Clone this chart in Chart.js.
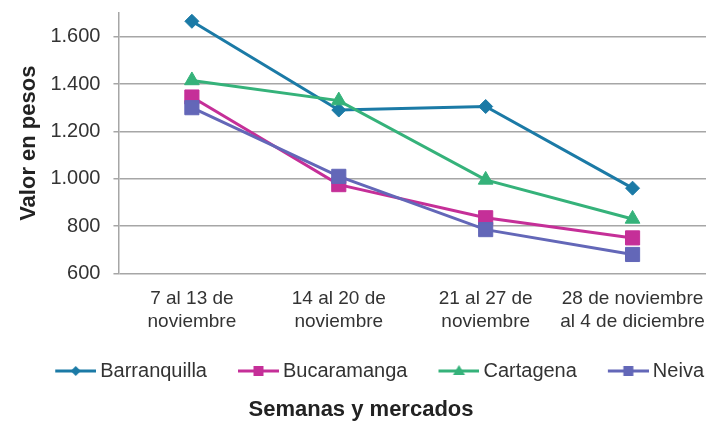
<!DOCTYPE html>
<html>
<head>
<meta charset="utf-8">
<script src="https://cdn.jsdelivr.net/npm/chart.js@4"></script>
<style>
  html, body { margin: 0; padding: 0; background: #fff; }
</style>
</head>
<body>
<canvas id="precios" width="706" height="423"></canvas>
<script>
// Datos
const semanas = [
    ['7 al 13 de', 'noviembre'],
    ['14 al 20 de', 'noviembre'],
    ['21 al 27 de', 'noviembre'],
    ['28 de noviembre', 'al 4 de diciembre']
];
const barranquilla = [1665, 1290, 1305, 960];
const bucaramanga = [1345, 975, 835, 750];
const cartagena = [1415, 1330, 995, 830];
const neiva = [1300, 1010, 785, 680];
const ticksY = [600, 800, 1000, 1200, 1400, 1600];

const fuente = "'Liberation Sans', Arial, sans-serif";
Chart.defaults.font.family = fuente;

// 1.600 con punto de miles
function formatoPesos(v) {
    if (v < 1000) return String(v);
    return Math.floor(v / 1000) + '.' + String(v % 1000).padStart(3, '0');
}

// icono de la leyenda: línea con marcador en el centro
function iconoLeyenda(color, marca) {
    const c = document.createElement('canvas');
    c.width = 76;
    c.height = 16;
    const g = c.getContext('2d');
    g.strokeStyle = color;
    g.fillStyle = color;
    g.lineWidth = 3;
    g.beginPath();
    g.moveTo(35, 8);
    g.lineTo(76, 8);
    g.stroke();
    const cx = 55.5, cy = 8;
    g.beginPath();
    if (marca === 'rectRot') {
        g.moveTo(cx, cy - 5);
        g.lineTo(cx + 5, cy);
        g.lineTo(cx, cy + 5);
        g.lineTo(cx - 5, cy);
    } else if (marca === 'rect') {
        g.rect(cx - 5, cy - 5, 10, 10);
    } else {
        g.moveTo(cx, cy - 6);
        g.lineTo(cx + 6, cy + 4);
        g.lineTo(cx - 6, cy + 4);
    }
    g.closePath();
    g.fill();
    return c;
}

function serie(nombre, datos, color, marca, radio, orden) {
    return {
        label: nombre,
        data: datos,
        borderColor: color,
        backgroundColor: color,
        borderWidth: 3,
        pointStyle: marca,
        pointRadius: radio,
        pointBorderWidth: 1,
        pointBackgroundColor: color,
        pointBorderColor: color,
        tension: 0,
        clip: false,
        order: orden,
        icono: iconoLeyenda(color, marca)
    };
}

const ctx = document.getElementById('precios').getContext('2d');
new Chart(ctx, {
    type: 'line',
    data: {
        labels: semanas,
        datasets: [
            serie('Barranquilla', barranquilla, '#1b7aa6', 'rectRot', 7, 4),
            serie('Bucaramanga', bucaramanga, '#c52f98', 'rect', 10, 3),
            serie('Cartagena', cartagena, '#35b27a', 'triangle', 8.5, 2),
            serie('Neiva', neiva, '#6367b8', 'rect', 10, 1)
        ]
    },
    options: {
        responsive: false,
        devicePixelRatio: 1,
        animation: false,
        layout: {
            autoPadding: false,
            padding: { top: 13, left: 16, right: 0, bottom: 0 }
        },
        scales: {
            x: {
                offset: true,
                // sin marcas, pero el largo de marca sirve de separación para las etiquetas
                grid: { display: false, drawTicks: true, tickLength: 14 },
                border: { display: false },
                ticks: {
                    color: '#333',
                    font: { size: 19 },
                    padding: 0,
                    maxRotation: 0,
                    autoSkip: false
                },
                afterFit: scale => {
                    scale.height += 26;
                    scale.paddingLeft = 0;
                    scale.paddingRight = 0;
                }
            },
            y: {
                min: 600,
                max: 1700,
                afterBuildTicks: scale => {
                    scale.ticks = ticksY.map(v => ({ value: v }));
                },
                afterFit: scale => {
                    scale.width -= 15;
                    scale.paddingTop = 0;
                    scale.paddingBottom = 0;
                },
                grid: { color: '#a6a6a6', lineWidth: 1.5, tickLength: 5 },
                border: { color: '#a6a6a6', width: 1.5 },
                ticks: {
                    color: '#333',
                    font: { size: 20 },
                    padding: 13,
                    callback: v => formatoPesos(v)
                },
                title: {
                    display: true,
                    text: 'Valor en pesos',
                    color: '#222',
                    font: { size: 22, weight: 'bold' },
                    padding: { top: 0, bottom: 10 }
                }
            }
        },
        plugins: {
            tooltip: { enabled: false },
            legend: {
                position: 'bottom',
                align: 'end',
                labels: {
                    usePointStyle: true,
                    pointStyleWidth: 64,
                    padding: 2,
                    color: '#333',
                    font: { size: 20 },
                    sort: (a, b) => a.datasetIndex - b.datasetIndex,
                    generateLabels: chart => {
                        const items = Chart.defaults.plugins.legend.labels.generateLabels(chart);
                        items.forEach(item => {
                            item.pointStyle = chart.data.datasets[item.datasetIndex].icono;
                        });
                        return items;
                    }
                }
            },
            title: {
                display: true,
                position: 'bottom',
                text: 'Semanas y mercados',
                color: '#222',
                font: { size: 22, weight: 'bold' },
                padding: { top: 5.6, bottom: 0 }
            }
        }
    }
});
</script>
</body>
</html>
